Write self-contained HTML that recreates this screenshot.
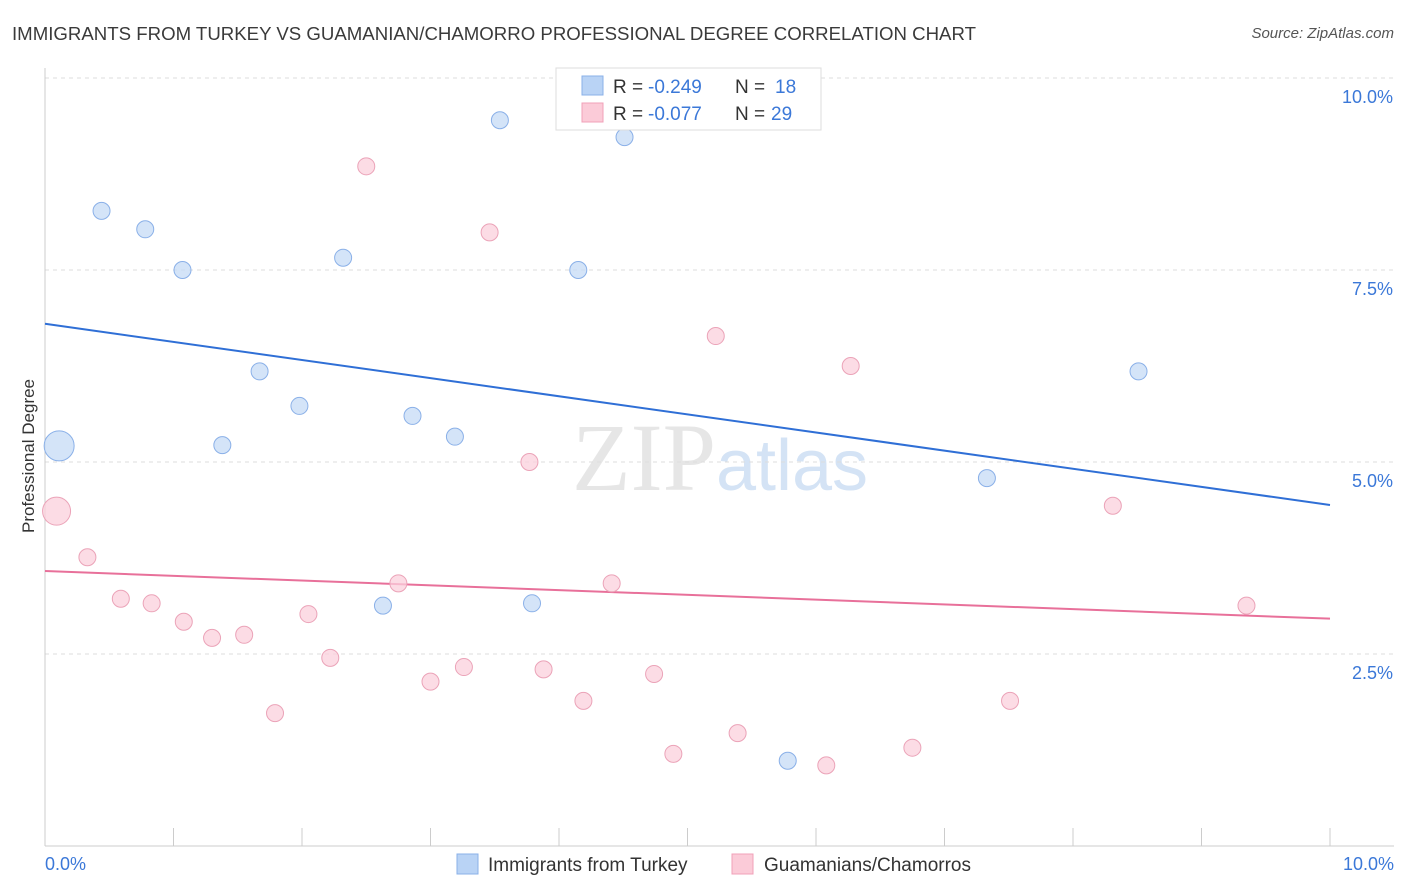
<!DOCTYPE html>
<html><head><meta charset="utf-8"><style>
body{margin:0;background:#fff;font-family:"Liberation Sans",sans-serif;}
svg{display:block}
</style></head><body>
<svg id="chart" width="1406" height="892" xmlns="http://www.w3.org/2000/svg">
<text x="12" y="40" font-size="18" fill="#3a3a3a" textLength="964" lengthAdjust="spacingAndGlyphs">IMMIGRANTS FROM TURKEY VS GUAMANIAN/CHAMORRO PROFESSIONAL DEGREE CORRELATION CHART</text>
<text x="1394" y="38" font-size="15" fill="#555" text-anchor="end" font-style="italic">Source: ZipAtlas.com</text>
<text x="720" y="490" font-size="96" text-anchor="middle" fill="#e6e6e6" font-family="Liberation Serif">ZIP<tspan fill="#d4e3f5" font-family="Liberation Sans" font-size="72">atlas</tspan></text>
<g id="grid"></g>
<g id="axes"></g>
<g id="trend"></g>
<g id="points"></g>
<text transform="translate(34,456) rotate(-90)" font-size="17" fill="#333" text-anchor="middle">Professional Degree</text>
<text x="45" y="870" font-size="18" fill="#3b78d8">0.0%</text>
<text x="1394" y="870" font-size="18" fill="#3b78d8" text-anchor="end">10.0%</text>
<g font-size="19">
<rect x="556" y="68" width="265" height="62" fill="#fff" stroke="#ddd"/>
<rect x="582" y="76" width="21" height="19" fill="#b9d3f5" stroke="#8ab0e8"/>
<rect x="582" y="103" width="21" height="19" fill="#fbcbd8" stroke="#f0a0b8"/>
<text x="613" y="93" fill="#333">R =</text><text x="648" y="93" fill="#3b78d8">-0.249</text>
<text x="735" y="93" fill="#333">N =</text><text x="775" y="93" fill="#3b78d8">18</text>
<text x="613" y="120" fill="#333">R =</text><text x="648" y="120" fill="#3b78d8">-0.077</text>
<text x="735" y="120" fill="#333">N =</text><text x="771" y="120" fill="#3b78d8">29</text>
</g>
<g>
<rect x="457" y="854" width="21" height="20" fill="#b9d3f5" stroke="#8ab0e8"/>
<text x="488" y="871" font-size="19" fill="#333">Immigrants from Turkey</text></g>
<g>
<rect x="732" y="854" width="21" height="20" fill="#fbcbd8" stroke="#f0a0b8"/>
<text x="764" y="871" font-size="19" fill="#333">Guamanians/Chamorros</text></g>
</svg>
<script>
const yTicks=[2.5,5.0,7.5,10.0];
const yTickLabels=["2.5%","5.0%","7.5%","10.0%"];
const blueX=[0.11,0.44,0.78,1.07,2.32,1.67,1.98,1.38,2.86,3.19,3.54,4.51,4.15,2.63,3.79,5.78,7.33,8.51];
const blueY=[5.21,8.27,8.03,7.50,7.66,6.18,5.73,5.22,5.60,5.33,9.45,9.23,7.50,3.13,3.16,1.11,4.79,6.18];
const pinkX=[0.09,0.33,0.59,0.83,1.08,1.30,1.55,1.79,2.05,2.22,2.50,2.75,3.00,3.26,3.46,3.77,3.88,4.19,4.41,4.74,4.89,5.22,5.39,6.08,6.27,6.75,7.51,8.31,9.35];
const pinkY=[4.36,3.76,3.22,3.16,2.92,2.71,2.75,1.73,3.02,2.45,8.85,3.42,2.14,2.33,7.99,5.00,2.30,1.89,3.42,2.24,1.20,6.64,1.47,1.05,6.25,1.28,1.89,4.43,3.13];
const blueTrend=[6.80,4.44];
const pinkTrend=[3.58,2.96];
const NS="http://www.w3.org/2000/svg";
const sx=v=>45+v*128.5, sy=v=>846-v*76.8;
function mk(tag,attrs,parent){const e=document.createElementNS(NS,tag);for(const k in attrs)e.setAttribute(k,attrs[k]);document.getElementById(parent).appendChild(e);return e;}
yTicks.forEach((t,i)=>{
 const l=mk('line',{x1:45,x2:1394,y1:sy(t),y2:sy(t),stroke:'#ddd','stroke-dasharray':'4,4'},'grid');
 
 
 const tx=mk('text',{x:1393,y:sy(t)+25,'font-size':18,fill:'#3b78d8','text-anchor':'end'},'grid');
 tx.textContent=yTickLabels[i];
 
 
});
const a1=mk('line',{x1:45,x2:45,y1:68,y2:846,stroke:'#ccc'},'axes');


const a2=mk('line',{x1:45,x2:1394,y1:846,y2:846,stroke:'#ccc'},'axes');


for(let i=0;i<=10;i++){
 const t=mk('line',{x1:sx(i),x2:sx(i),y1:828,y2:846,stroke:'#ccc'},'axes');
 
 
}
function pts(xs,ys,fill,stroke,name,big){
 xs.forEach((x,i)=>{
  const r=(i===0)?big:8.5;
  const c=mk('circle',{cx:sx(x),cy:sy(ys[i]),r:r,fill:fill,stroke:stroke,'stroke-width':1,'fill-opacity':0.75},'points');
  
  
 });
}
pts(pinkX,pinkY,'#fbd0dc','#eba3b8','guamanian-point',14);
pts(blueX,blueY,'#c6dbf5','#8ab0e8','turkey-point',15);
const bl=mk('line',{x1:sx(0),y1:sy(blueTrend[0]),x2:sx(10),y2:sy(blueTrend[1]),stroke:'#2f6fd6','stroke-width':2},'trend');


const pl=mk('line',{x1:sx(0),y1:sy(pinkTrend[0]),x2:sx(10),y2:sy(pinkTrend[1]),stroke:'#e8709a','stroke-width':2},'trend');


</script>
</body></html>
